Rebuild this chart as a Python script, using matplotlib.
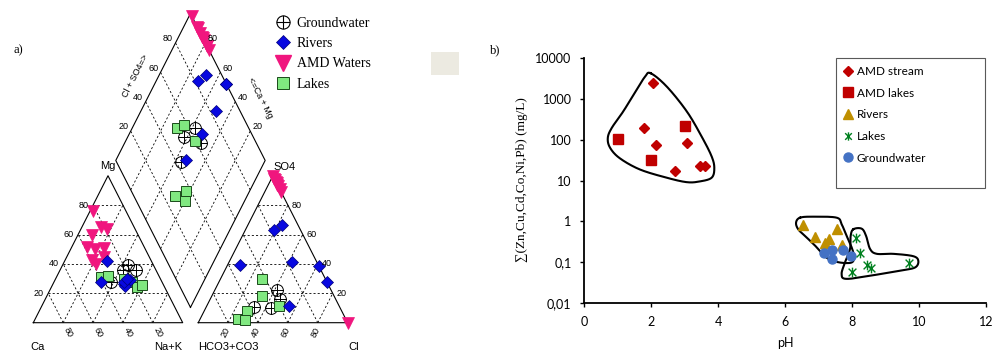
import numpy as np
import matplotlib
matplotlib.use("Agg")
import matplotlib.pyplot as plt
from matplotlib.path import Path
from matplotlib.lines import Line2D
from matplotlib.patches import Rectangle

# ---------------- Piper diagram data (fractions of meq) ----------------
gw_nak = [0.38, 0.42, 0.51, 0.44]
gw_mg = [0.28, 0.36, 0.36, 0.39]
gw_cl = [0.44, 0.42, 0.47, 0.32]
gw_so4 = [0.10, 0.22, 0.16, 0.11]

riv_nak = [0.28, 0.31, 0.48, 0.50, 0.49, 0.47, 0.48]
riv_mg = [0.42, 0.28, 0.26, 0.29, 0.25, 0.28, 0.30]
riv_cl = [0.195, 0.225, 0.616, 0.422, 0.552, 0.084, 0.725]
riv_so4 = [0.628, 0.667, 0.384, 0.414, 0.115, 0.391, 0.275]

amd_nak = [0.02, 0.13, 0.17, 0.09, 0.10, 0.16, 0.22, 0.18, 0.22, 0.25]
amd_mg = [0.76, 0.65, 0.64, 0.60, 0.515, 0.50, 0.51, 0.425, 0.40, 0.45]
amd_cl = [0.0, 0.02, 0.03, 0.04, 0.05, 0.06, 0.07, 0.09, 0.11, 1.0]
amd_so4 = [1.0, 0.98, 0.97, 0.96, 0.95, 0.94, 0.93, 0.91, 0.89, 0.0]

lak_nak = [0.30, 0.34, 0.46, 0.52, 0.57, 0.60]
lak_mg = [0.31, 0.32, 0.30, 0.28, 0.245, 0.255]
lak_cl = [0.34, 0.28, 0.48, 0.256, 0.285, 0.304]
lak_so4 = [0.18, 0.30, 0.115, 0.023, 0.079, 0.018]

piper_ticks = [20, 40, 60, 80]

# ---------------- pH vs metals data ----------------
amd_stream_ph = [2.05, 1.79, 2.14, 3.06, 2.72, 3.46, 3.62]
amd_stream_c = [2400, 195, 76, 85, 17, 23, 23]
amd_lakes_ph = [1.01, 2.0, 3.0]
amd_lakes_c = [104, 32, 218]
rivers_ph = [6.55, 6.9, 7.19, 7.3, 7.54, 7.69]
rivers_c = [0.8, 0.42, 0.3, 0.36, 0.66, 0.27]
lakes_ph = [8.13, 8.24, 8.44, 8.56, 8.0, 9.69]
lakes_c = [0.38, 0.17, 0.085, 0.07, 0.056, 0.095]
gwater_ph = [7.17, 7.41, 7.41, 7.72, 7.96]
gwater_c = [0.166, 0.195, 0.117, 0.195, 0.14]

# hand-drawn group outlines (pH, mg/L)
amd_out_ph = [1.99, 2.47, 3.07, 3.51, 3.81, 3.89, 3.81, 3.46, 3.07, 2.47,
              1.67, 1.07, 0.78, 0.71, 0.83, 1.17, 1.57, 1.82]
amd_out_c = [4240, 2000, 490, 120, 39, 20, 11.7, 9.5, 9.1, 11.7,
             18.6, 35, 63, 110, 195, 490, 1660, 3470]
rg_out_ph = [6.45, 6.84, 7.54, 7.69, 7.84, 7.99, 8.06, 8.02, 7.84, 7.54,
             7.24, 6.95, 6.65, 6.40, 6.33]
rg_out_c = [1.23, 1.3, 1.23, 0.85, 0.44, 0.23, 0.14, 0.102, 0.095, 0.102,
            0.129, 0.23, 0.40, 0.63, 0.93]
lk_out_ph = [8.04, 8.29, 8.42, 8.54, 8.74, 9.23, 9.83, 9.98, 9.88, 9.43,
             8.64, 7.84, 7.69, 7.79, 7.94, 7.96]
lk_out_c = [0.64, 0.66, 0.44, 0.21, 0.16, 0.16, 0.14, 0.107, 0.074, 0.062,
            0.048, 0.039, 0.051, 0.098, 0.21, 0.44]

ytick_vals = [0.01, 0.1, 1, 10, 100, 1000, 10000]
ytick_labels = ["0,01", "0,1", "1", "10", "100", "1000", "10000"]
xtick_vals = [0, 2, 4, 6, 8, 10, 12]

PINK = "#F0167E"
BLUE = "#0808E0"
GREEN = "#80E880"
SANS = ["Liberation Sans", "DejaVu Sans"]
SERIF = ["Liberation Serif", "DejaVu Serif"]
CALI = ["Lato", "DejaVu Sans"]

H = np.sqrt(3) / 2
G = 0.104  # gap between triangles


def cation_xy(nak, mg):
    nak, mg = np.asarray(nak), np.asarray(mg)
    return nak + mg / 2, mg * H


def anion_xy(cl, so4):
    cl, so4 = np.asarray(cl), np.asarray(so4)
    return 1 + G + cl + so4 / 2, so4 * H


def diamond_xy(nak, cl, so4):
    a = 1 - np.asarray(nak)
    s = np.asarray(cl) + np.asarray(so4)
    return 1 + G / 2 + (s - a) / 2, G * H + (a + s) * H


def smooth_closed(x, y, n=24):
    pts = np.column_stack([x, y])
    P = np.vstack([pts[-1], pts, pts[0], pts[1]])
    t = np.linspace(0, 1, n, endpoint=False)[:, None]
    out = []
    for i in range(1, len(pts) + 1):
        p0, p1, p2, p3 = P[i - 1], P[i], P[i + 1], P[i + 2]
        out.append(0.5 * (2 * p1 + (-p0 + p2) * t
                          + (2 * p0 - 5 * p1 + 4 * p2 - p3) * t ** 2
                          + (-p0 + 3 * p1 - 3 * p2 + p3) * t ** 3))
    out = np.vstack(out + [pts[:1]])
    return out[:, 0], out[:, 1]


# markers
gw_marker = Path.make_compound_path(
    Path.unit_circle(),
    Path([[-1, 0], [1, 0], [0, -1], [0, 1]],
         [Path.MOVETO, Path.LINETO, Path.MOVETO, Path.LINETO]))
star_marker = Path([[-1, -1], [1, 1], [-1, 1], [1, -1], [0, -1.25], [0, 1.25]],
                   [Path.MOVETO, Path.LINETO] * 3)

fig = plt.figure(figsize=(9.94, 3.52), dpi=100)

# ================= Piper diagram =================
ax = fig.add_axes([0, 0, 400 / 994, 1])
ax.set_xlim(-33.3 / 149.4, (400 - 33.3) / 149.4)
ax.set_ylim(-(352 - 322.7) / 169.7, 322.7 / 169.7)
ax.axis("off")

lw_frame = 0.8
grid_kw = dict(color="black", lw=0.6, ls=(0, (2.5, 2.5)))

# cation triangle
ax.plot([0, 1, 0.5, 0], [0, 0, H, 0], color="black", lw=lw_frame)
# anion triangle
ox = 1 + G
ax.plot([ox, ox + 1, ox + 0.5, ox], [0, 0, H, 0], color="black", lw=lw_frame)
# diamond
bx, by = 1 + G / 2, G * H
ax.plot([bx, bx - 0.5, bx, bx + 0.5, bx], [by, by + H, by + 2 * H, by + H, by],
        color="black", lw=lw_frame)

tk = dict(fontsize=6.5, family=SANS, ha="center", va="center")
for p in piper_ticks:
    f = p / 100
    # cation grid
    ax.plot([f / 2, 1 - f / 2], [f * H, f * H], **grid_kw)
    ax.plot([1 - f, (1 - f) / 2], [0, (1 - f) * H], **grid_kw)
    ax.plot([f, f + (1 - f) / 2], [0, (1 - f) * H], **grid_kw)
    # anion grid
    ax.plot([ox + f / 2, ox + 1 - f / 2], [f * H, f * H], **grid_kw)
    ax.plot([ox + f, ox + f + (1 - f) / 2], [0, (1 - f) * H], **grid_kw)
    ax.plot([ox + 1 - f, ox + (1 - f) / 2], [0, (1 - f) * H], **grid_kw)
    # diamond grid
    ax.plot([bx - f / 2, bx - f / 2 + 0.5], [by + f * H, by + f * H + H], **grid_kw)
    ax.plot([bx + f / 2, bx + f / 2 - 0.5], [by + f * H, by + f * H + H], **grid_kw)

    # tick labels
    ax.text(f / 2 - 0.065, f * H, str(p), **tk)
    ax.text((1 - f) + 0.035, -0.055, str(p), rotation=-63, **tk)
    ax.text(ox + f - 0.017, -0.055, str(p), rotation=63, **tk)
    ax.text(ox + 1 - f / 2 + 0.06, f * H, str(p), **tk)
    ax.text(bx - 0.5 + f / 2 - 0.05, by + H + f * H + 0.025, str(p), **tk)
    ax.text(bx + 0.5 - f / 2 + 0.05, by + H + f * H + 0.025, str(p), **tk)

lab = dict(fontsize=8, family=SANS, ha="center", va="center")
ax.text(0.5, H + 0.06, "Mg", **lab)
ax.text(0.03, -0.145, "Ca", **lab)
ax.text(0.90, -0.145, "Na+K", **lab)
ax.text(ox + 0.2, -0.145, "HCO3+CO3", **lab)
ax.text(ox + 1.04, -0.145, "Cl", **lab)
ax.text(ox + 0.58, H + 0.05, "SO4", **lab)
ax.text(bx - 0.37, by + H + 0.5, "Cl + SO4=>", rotation=63, fontsize=6.5,
        family=SANS, ha="center", va="center")
ax.text(bx + 0.47, by + H + 0.37, "<=Ca + Mg", rotation=-63, fontsize=6.5,
        family=SANS, ha="center", va="center")

groups = [
    (gw_nak, gw_mg, gw_cl, gw_so4,
     dict(marker=gw_marker, ms=8.5, mfc="none", mec="black", mew=0.7)),
    (amd_nak, amd_mg, amd_cl, amd_so4,
     dict(marker="v", ms=9, mfc=PINK, mec=PINK, mew=0.5)),
    (lak_nak, lak_mg, lak_cl, lak_so4,
     dict(marker="s", ms=7.5, mfc=GREEN, mec="#1A4A1A", mew=0.7)),
    (riv_nak, riv_mg, riv_cl, riv_so4,
     dict(marker="D", ms=6, mfc=BLUE, mec="#00007A", mew=0.5)),
]
for nak, mg, cl, so4, kw in groups:
    ax.plot(*cation_xy(nak, mg), ls="none", **kw)
    ax.plot(*anion_xy(cl, so4), ls="none", **kw)
    ax.plot(*diamond_xy(nak, cl, so4), ls="none", **kw)

left_handles = [
    Line2D([], [], ls="none", marker=gw_marker, ms=9.5, mfc="none", mec="black", mew=0.8),
    Line2D([], [], ls="none", marker="D", ms=7, mfc=BLUE, mec="#00007A", mew=0.5),
    Line2D([], [], ls="none", marker="v", ms=11, mfc=PINK, mec=PINK),
    Line2D([], [], ls="none", marker="s", ms=8.5, mfc=GREEN, mec="#1A4A1A", mew=0.7),
]
fig.legend(left_handles, ["Groundwater", "Rivers", "AMD Waters", "Lakes"],
           loc="upper left", bbox_to_anchor=(276 / 994, 1 - 17 / 352),
           frameon=False, prop=dict(family=SERIF, size=10), handlelength=1.0,
           handletextpad=0.5, labelspacing=0.52, borderpad=0, borderaxespad=0)

fig.text(14 / 994, 1 - 50 / 352, "a)", family=SERIF, fontsize=9, va="center")
fig.text(490 / 994, 1 - 50 / 352, "b)", family=SERIF, fontsize=9, va="center")
fig.patches.append(Rectangle((430.7 / 994, 1 - 75 / 352), 28.3 / 994, 23.3 / 352,
                             transform=fig.transFigure, facecolor="#ECEAE1",
                             edgecolor="none"))

# ================= pH vs metals =================
bx2 = fig.add_axes([584 / 994, 49 / 352, 402 / 994, 245 / 352])
bx2.set_yscale("log")
bx2.set_xlim(0, 12)
bx2.set_ylim(0.01, 10000)

for ox_, oy_ in [(amd_out_ph, amd_out_c), (rg_out_ph, rg_out_c), (lk_out_ph, lk_out_c)]:
    sx, sy = smooth_closed(ox_, np.log10(oy_))
    bx2.plot(sx, 10 ** sy, color="black", lw=1.5, zorder=2)

bx2.plot(amd_stream_ph, amd_stream_c, ls="none", marker="D", ms=5.2, color="#C00000", zorder=3)
bx2.plot(amd_lakes_ph, amd_lakes_c, ls="none", marker="s", ms=7, color="#C00000", zorder=3)
bx2.plot(rivers_ph, rivers_c, ls="none", marker="^", ms=7, color="#BF8F00", zorder=3)
bx2.plot(gwater_ph, gwater_c, ls="none", marker="o", ms=6.5, color="#4472C4", zorder=3)
bx2.plot(lakes_ph, lakes_c, ls="none", marker=star_marker, ms=7, mfc="none",
         mec="#00801F", mew=1.0, zorder=4)

bx2.set_xticks(xtick_vals)
bx2.set_xticklabels([str(v) for v in xtick_vals])
bx2.set_yticks(ytick_vals)
bx2.set_yticklabels(ytick_labels)
bx2.yaxis.set_minor_locator(matplotlib.ticker.NullLocator())
bx2.tick_params(direction="out", length=3, width=1, labelsize=9, pad=6)
for lbl in bx2.get_xticklabels() + bx2.get_yticklabels():
    lbl.set_family(CALI)
for side in ("top", "right"):
    bx2.spines[side].set_visible(False)
for side in ("left", "bottom"):
    bx2.spines[side].set_linewidth(1.3)

fig.text(785 / 994, 1 - 343 / 352, "pH", family=CALI,
         fontsize=9, ha="center", va="center")
fig.text(522 / 994, 1 - 180 / 352, "\u2211(Zn,Cu,Cd,Co,Ni,Pb) (mg/L)",
         family=SERIF, fontsize=9.5, rotation=90, ha="center", va="center")

right_handles = [
    Line2D([], [], ls="none", marker="D", ms=5, color="#C00000"),
    Line2D([], [], ls="none", marker="s", ms=7, color="#C00000"),
    Line2D([], [], ls="none", marker="^", ms=7, color="#BF8F00"),
    Line2D([], [], ls="none", marker=star_marker, ms=6, mfc="none", mec="#00801F", mew=1.0),
    Line2D([], [], ls="none", marker="o", ms=6.5, color="#4472C4"),
]
fig.legend(right_handles, ["AMD stream", "AMD lakes", "Rivers", "Lakes", "Groundwater"],
           loc="upper left", bbox_to_anchor=(843 / 994, 1 - 66 / 352),
           frameon=False, prop=dict(family=CALI, size=8.5),
           handlelength=0.8, handletextpad=0.35, labelspacing=0.9,
           borderpad=0, borderaxespad=0)
# legend border (top/right edges sit on the plot-area corner)
fig.add_artist(Rectangle((836 / 994, 1 - 188 / 352), 149 / 994, 130 / 352,
                         transform=fig.transFigure, facecolor="none",
                         edgecolor="#595959", lw=0.8))

fig.savefig("out.png", dpi=100)
